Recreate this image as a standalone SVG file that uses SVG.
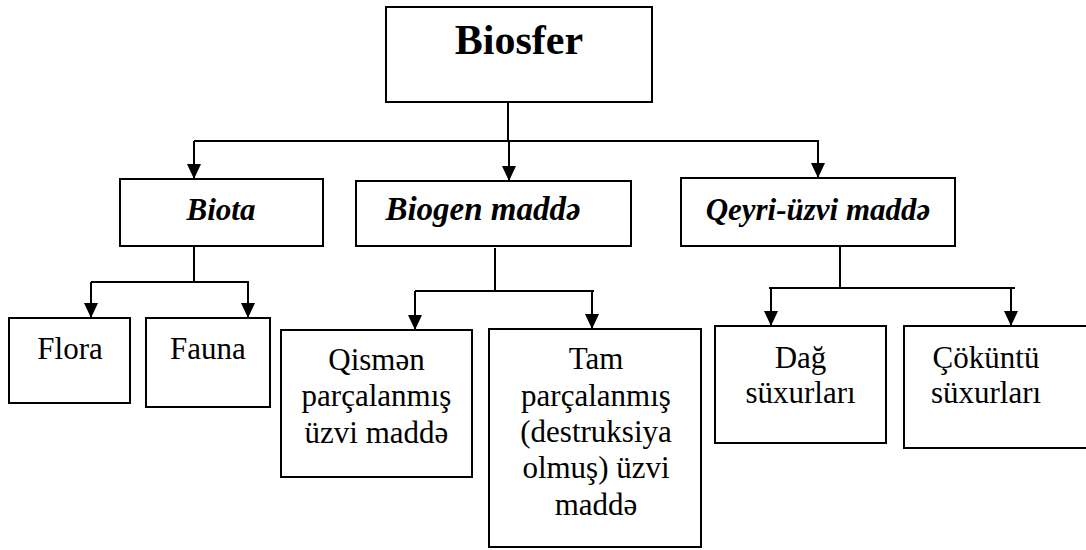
<svg xmlns="http://www.w3.org/2000/svg" width="1086" height="550" viewBox="0 0 1086 550">
<style>
  .box { fill: #ffffff; stroke: #000000; stroke-width: 2; }
  .ln { fill: none; stroke: #000000; stroke-width: 2; }
  .t { font-family: "Liberation Serif", "Times New Roman", serif; fill: #000000; text-anchor: middle; }
  .title { font-size: 42px; font-weight: bold; }
  .mid { font-size: 31px; font-weight: bold; font-style: italic; }
  .low { font-size: 31px; }
</style>
<defs>
  <marker id="arr" markerUnits="userSpaceOnUse" markerWidth="16" markerHeight="16" refX="15" refY="7" orient="auto">
    <path d="M0,0 L15,7 L0,14 z" fill="#000000"/>
  </marker>
</defs>
<rect width="1086" height="550" fill="#ffffff"/>
<g id="connectors">
  <path class="ln" d="M508,102 V141 M194,141 H819"/>
  <path class="ln" d="M194,141 V179" marker-end="url(#arr)"/>
  <path class="ln" d="M509,141 V181" marker-end="url(#arr)"/>
  <path class="ln" d="M818,141 V178" marker-end="url(#arr)"/>
  <path class="ln" d="M194,246 V282 M91,282 H249"/>
  <path class="ln" d="M91,282 V318" marker-end="url(#arr)"/>
  <path class="ln" d="M248,282 V318" marker-end="url(#arr)"/>
  <path class="ln" d="M495,248 V291 M415,291 H594"/>
  <path class="ln" d="M415,291 V330" marker-end="url(#arr)"/>
  <path class="ln" d="M592,291 V329" marker-end="url(#arr)"/>
  <path class="ln" d="M840,246 V288 M769,288 H1015"/>
  <path class="ln" d="M771,288 V326" marker-end="url(#arr)"/>
  <path class="ln" d="M1011,288 V326" marker-end="url(#arr)"/>
</g>
<g id="biosfer">
  <rect class="box" x="386" y="7" width="266" height="95"/>
  <text class="t title" x="519" y="54">Biosfer</text>
</g>
<g id="biota">
  <rect class="box" x="120" y="179" width="203" height="67"/>
  <text class="t mid" x="221" y="220">Biota</text>
</g>
<g id="biogen">
  <rect class="box" x="356" y="181" width="275" height="65"/>
  <text class="t mid" x="483" y="220" style="font-size:33px">Biogen maddə</text>
</g>
<g id="qeyri">
  <rect class="box" x="681" y="178" width="274" height="68"/>
  <text class="t mid" x="818" y="220">Qeyri-üzvi maddə</text>
</g>
<g id="flora">
  <rect class="box" x="9" y="318" width="121" height="85"/>
  <text class="t low" x="70" y="359">Flora</text>
</g>
<g id="fauna">
  <rect class="box" x="146" y="318" width="124" height="89"/>
  <text class="t low" x="208" y="359">Fauna</text>
</g>
<g id="qismen">
  <rect class="box" x="281" y="330" width="191" height="147"/>
  <text class="t low" x="376.5" y="370">Qismən</text>
  <text class="t low" x="376.5" y="406">parçalanmış</text>
  <text class="t low" x="376.5" y="443">üzvi maddə</text>
</g>
<g id="tam">
  <rect class="box" x="489" y="329" width="212" height="218"/>
  <text class="t low" x="596" y="369">Tam</text>
  <text class="t low" x="596" y="406">parçalanmış</text>
  <text class="t low" x="596" y="442">(destruksiya</text>
  <text class="t low" x="596" y="478">olmuş) üzvi</text>
  <text class="t low" x="596" y="515">maddə</text>
</g>
<g id="dag">
  <rect class="box" x="715" y="326" width="171" height="117"/>
  <text class="t low" x="800.5" y="368">Dağ</text>
  <text class="t low" x="800.5" y="403">süxurları</text>
</g>
<g id="cokuntu">
  <rect class="box" x="904" y="326" width="186" height="122"/>
  <text class="t low" x="986" y="368">Çöküntü</text>
  <text class="t low" x="986" y="403">süxurları</text>
</g>
</svg>
